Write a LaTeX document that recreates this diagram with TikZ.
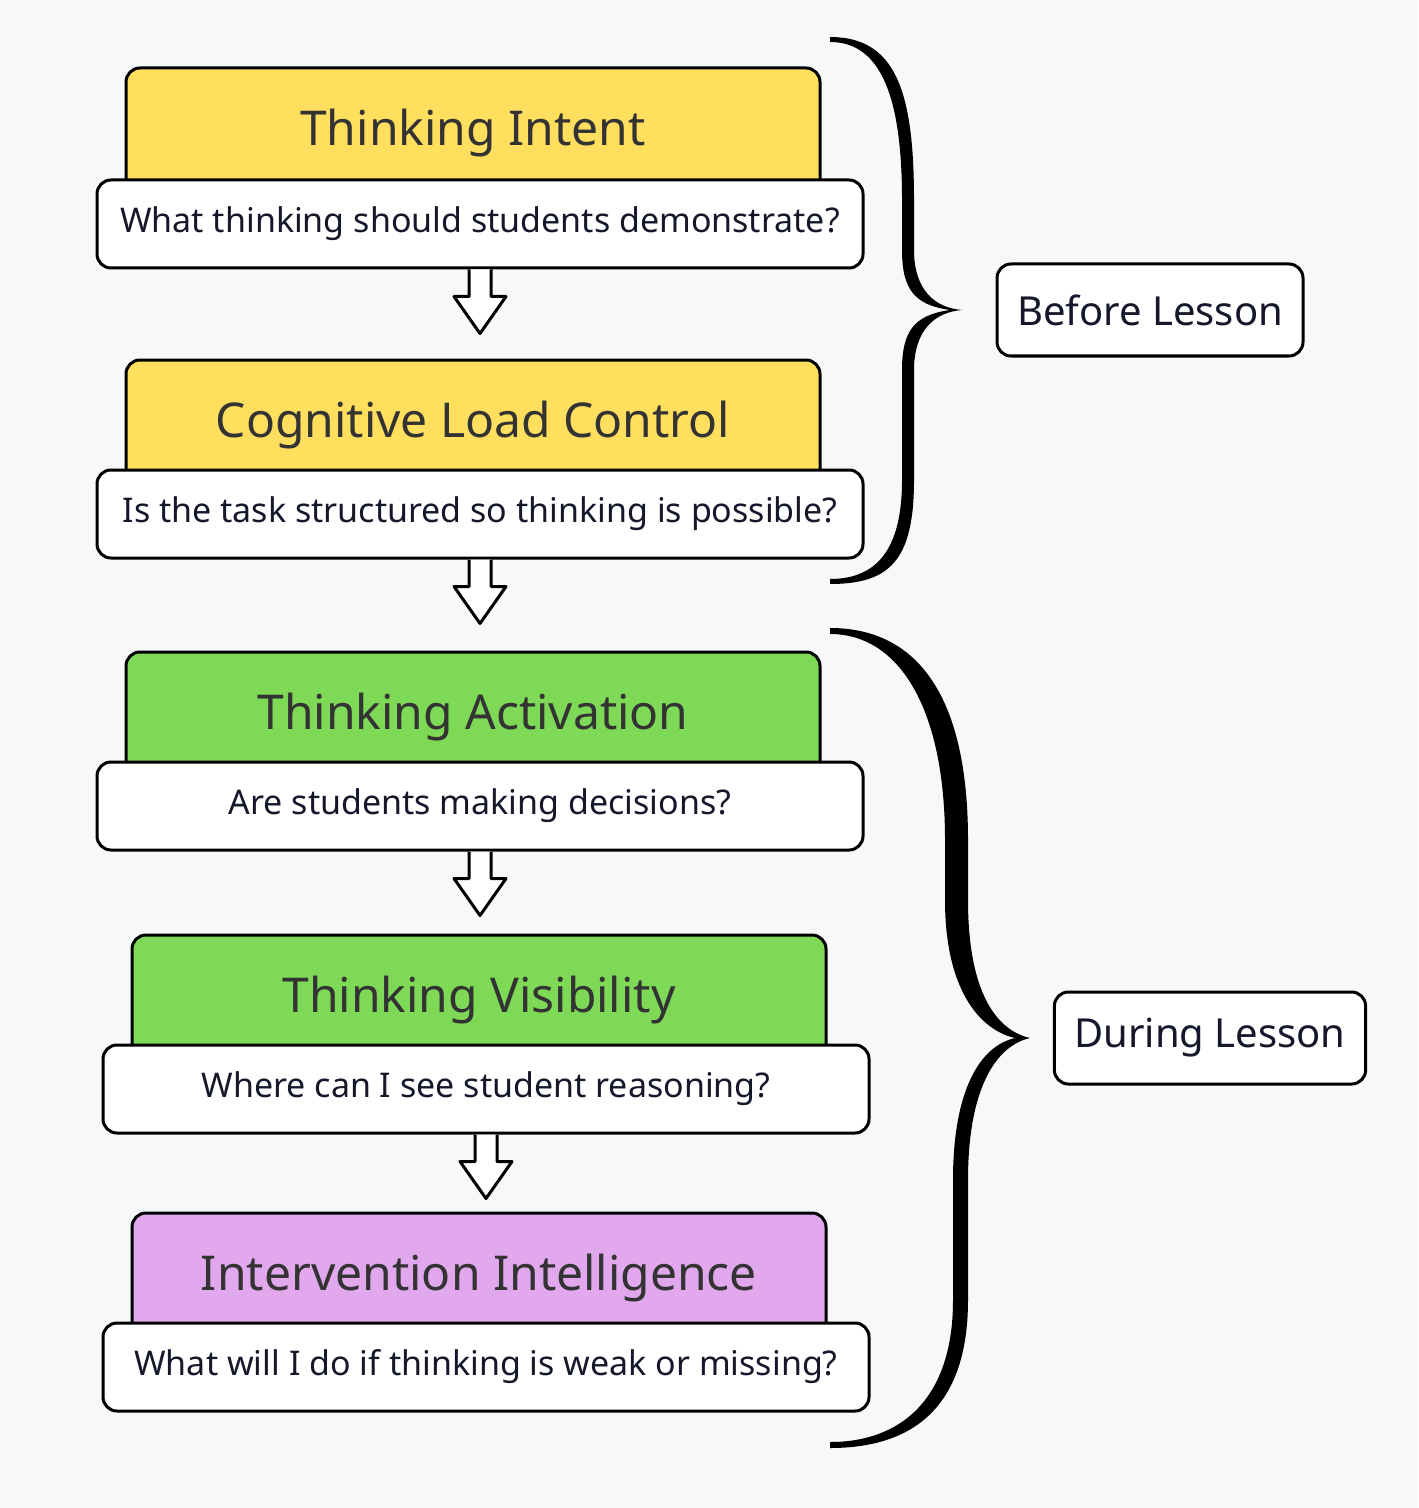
\documentclass[tikz,border=0pt]{standalone}
\usepackage{fontspec}
\setmainfont{Noto Sans}
\usetikzlibrary{calc}
\definecolor{bg}{HTML}{F7F8FA}
\definecolor{yel}{HTML}{FFDF5D}
\definecolor{grn}{HTML}{7ED957}
\definecolor{pur}{HTML}{E2A8EE}
\definecolor{hd}{HTML}{333333}
\definecolor{sb}{HTML}{15172B}
\begin{document}
\begin{tikzpicture}[x=0.5pt,y=-0.5pt,
  box/.style={draw=black,line width=1.5pt,rounded corners=7pt,inner sep=0pt},
  head/.style={box,minimum width=347pt,minimum height=65pt,text=hd,font=\fontsize{24}{28}\selectfont},
  sub/.style={box,fill=white,minimum width=383pt,minimum height=44pt,text=sb,font=\fontsize{17}{20}\selectfont},
  lab/.style={box,fill=white,text=sb,minimum height=46pt,inner xsep=10pt,font=\fontsize{20}{24}\selectfont},
  darr/.style={draw=black,line width=1.5pt,fill=white,line join=round},
  brace/.style={fill=black}]
\fill[bg] (0,0) rectangle (1418,1508);
\useasboundingbox (0,0) rectangle (1418,1508);
\newcommand\darrow[1]{\draw[darr] ($(#1.south)+(-11,0)$) -- ++(0,27) -- ++(-15,0) -- ++(26,37) -- ++(26,-37) -- ++(-15,0) -- ++(0,-27);}
\node[head,fill=yel] (h1) at (473,133) {Thinking Intent};
\node[sub] (w1) at (480,224) {What thinking should students demonstrate?};
\node[head,fill=yel] (h2) at (473,425) {Cognitive Load Control};
\node[sub] (w2) at (480,514) {Is the task structured so thinking is possible?};
\node[head,fill=grn] (h3) at (473,717) {Thinking Activation};
\node[sub] (w3) at (480,806) {Are students making decisions?};
\node[head,fill=grn] (h4) at (479,1000) {Thinking Visibility};
\node[sub] (w4) at (486,1089) {Where can I see student reasoning?};
\node[head,fill=pur] (h5) at (479,1278) {Intervention Intelligence};
\node[sub] (w5) at (486,1367) {What will I do if thinking is weak or missing?};
\darrow{w1}\darrow{w2}\darrow{w3}\darrow{w4}
\node[lab] (before) at (1150,310) {Before Lesson};
\node[lab] (during) at (1210,1038) {During Lesson};
\coordinate (t1) at (962,310);
\coordinate (t2) at (1030,1038);
% brace 1
\fill[brace] (830,37) .. controls (895,37) and (914,90) .. (914,200) -- (914,250) .. controls (914,290) and (935,308) .. (t1) .. controls (935,312) and (914,330) .. (914,370) -- (914,480) .. controls (914,560) and (890,584) .. (830,584)
 -- (830,579) .. controls (880,579) and (902,545) .. (902,480) -- (902,370) .. controls (902,330) and (915,315) .. (950,310) .. controls (915,305) and (902,290) .. (902,250) -- (902,200) .. controls (902,95) and (880,42) .. (830,42) -- cycle;
% brace 2
\fill[brace] (830,628) .. controls (920,628) and (968,700) .. (968,840) -- (968,900) .. controls (968,990) and (995,1030) .. (t2) .. controls (995,1046) and (968,1090) .. (968,1180) -- (968,1300) .. controls (968,1410) and (910,1448) .. (830,1448)
 -- (830,1442) .. controls (900,1442) and (953,1400) .. (953,1300) -- (953,1180) .. controls (953,1090) and (980,1046) .. (1015,1038) .. controls (980,1030) and (945,990) .. (945,900) -- (945,840) .. controls (945,710) and (900,634) .. (830,634) -- cycle;
\end{tikzpicture}
\end{document}
